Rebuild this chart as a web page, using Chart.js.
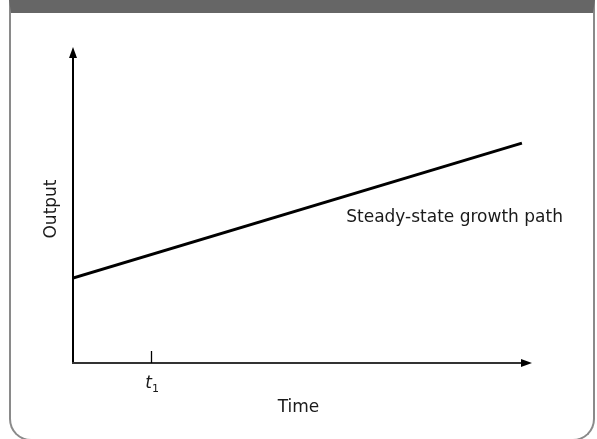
<!DOCTYPE html>
<html>
<head>
<meta charset="utf-8">
<script src="https://cdn.jsdelivr.net/npm/chart.js@4"></script>
<style>
  html, body { margin: 0; padding: 0; background: #fff; }
  #wrap { position: relative; width: 597px; height: 439px; overflow: hidden; }
  #frame {
    position: absolute; left: 9px; top: 0; width: 582px; height: 426px;
    border: 2px solid #8a8a8a; border-top: 13px solid #666;
    border-radius: 0 0 22px 22px;
  }
  #chart { position: absolute; left: 0; top: 0; }
</style>
</head>
<body>
<div id="wrap">
  <div id="frame"></div>
  <canvas id="chart" width="597" height="439"></canvas>
</div>
<script>
// Values (arbitrary units, axes run 0..10)
const timeValues = [0, 9.78];
const outputValues = [2.69, 6.96];
const tickPositions = [1.7];
const tickLabels = ['t', '1']; // italic t with subscript 1
const axisTitles = ['Time', 'Output'];
const pathLabel = 'Steady-state growth path';

const FONT = '"DejaVu Sans", sans-serif';

// draws the arrowed axes, the t1 tick and all the text
const diagramPlugin = {
  id: 'diagram',
  afterDraw(chart) {
    const { ctx, chartArea: a, scales: { x, y } } = chart;
    const x0 = x.getPixelForValue(0);
    const y0 = y.getPixelForValue(0);
    ctx.save();

    // y axis
    ctx.strokeStyle = '#000';
    ctx.lineWidth = 2;
    ctx.beginPath();
    ctx.moveTo(x0, y0 + 1);
    ctx.lineTo(x0, a.top + 8);
    ctx.stroke();
    // x axis
    ctx.strokeStyle = '#333';
    ctx.beginPath();
    ctx.moveTo(x0 - 1, y0);
    ctx.lineTo(a.right - 8, y0);
    ctx.stroke();

    // arrow heads
    ctx.fillStyle = '#000';
    ctx.beginPath();
    ctx.moveTo(x0, a.top);
    ctx.lineTo(x0 - 4, a.top + 11);
    ctx.lineTo(x0 + 4, a.top + 11);
    ctx.closePath();
    ctx.fill();
    ctx.beginPath();
    ctx.moveTo(a.right, y0);
    ctx.lineTo(a.right - 11, y0 - 4);
    ctx.lineTo(a.right - 11, y0 + 4);
    ctx.closePath();
    ctx.fill();

    // tick at t1
    tickPositions.forEach(v => {
      const px = Math.round(x.getPixelForValue(v)) + 0.5;
      ctx.strokeStyle = '#000';
      ctx.lineWidth = 1.3;
      ctx.beginPath();
      ctx.moveTo(px, y0);
      ctx.lineTo(px, y0 - 12);
      ctx.stroke();

      ctx.fillStyle = '#1a1a1a';
      ctx.textBaseline = 'alphabetic';
      ctx.textAlign = 'left';
      ctx.font = 'italic 17px ' + FONT;
      const tw = ctx.measureText(tickLabels[0]).width;
      ctx.fillText(tickLabels[0], px - tw + 0.5, y0 + 25);
      ctx.font = '11px ' + FONT;
      ctx.fillText(tickLabels[1], px + 0.5, y0 + 29);
    });

    // axis titles
    ctx.fillStyle = '#1a1a1a';
    ctx.font = '17px ' + FONT;
    ctx.textAlign = 'center';
    ctx.textBaseline = 'middle';
    ctx.fillText(axisTitles[0], (a.left + a.right) / 2 - 4, y0 + 45);
    ctx.save();
    ctx.translate(a.left - 21, (a.top + a.bottom) / 2 + 4);
    ctx.rotate(-Math.PI / 2);
    ctx.fillText(axisTitles[1], 0, 0);
    ctx.restore();

    // label of the path
    const last = timeValues.length - 1;
    ctx.textAlign = 'right';
    ctx.fillText(pathLabel, x.getPixelForValue(timeValues[last]) + 41,
      y.getPixelForValue(outputValues[last]) + 75);

    ctx.restore();
  }
};

new Chart(document.getElementById('chart'), {
  type: 'scatter',
  data: {
    datasets: [{
      label: pathLabel,
      data: timeValues.map((t, i) => ({ x: t, y: outputValues[i] })),
      showLine: true,
      borderColor: '#000',
      borderWidth: 3,
      pointRadius: 0,
      fill: false
    }]
  },
  options: {
    responsive: false,
    animation: false,
    layout: { padding: { left: 73, top: 47, right: 65, bottom: 76 } },
    plugins: { legend: { display: false }, tooltip: { enabled: false } },
    scales: {
      x: { type: 'linear', min: 0, max: 10, display: false },
      y: { type: 'linear', min: 0, max: 10, display: false }
    }
  },
  plugins: [diagramPlugin]
});
</script>
</body>
</html>
